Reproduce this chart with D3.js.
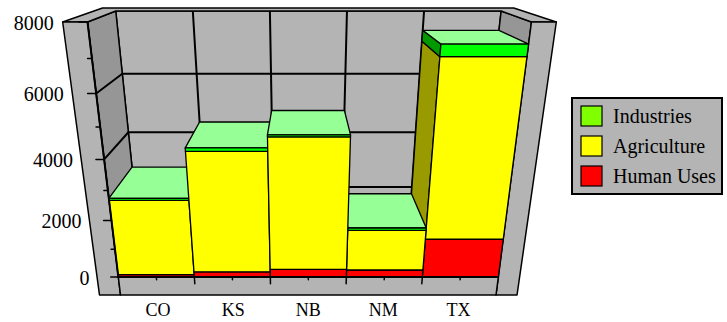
<!DOCTYPE html>
<html>
<head>
<meta charset="utf-8">
<script src="https://cdn.jsdelivr.net/npm/d3@7"></script>
<style>
  html, body { margin: 0; padding: 0; background: #fff; }
  svg { display: block; }
  svg text { font-family: "Liberation Serif", "Times New Roman", Times, serif; }
</style>
</head>
<body>
<svg id="chart" width="727" height="322"></svg>
<script>
// ---- data ----
const states = ["CO", "KS", "NB", "NM", "TX"];
const seriesNames = ["Human Uses", "Agriculture", "Industries"];
const humanUses   = [90, 190, 280, 255, 1350];
const agriculture = [2580, 4060, 4420, 1400, 5700];
const industries  = [70, 110, 60, 85, 350];
const yTickValues = [0, 2000, 4000, 6000, 8000];
const legendOrder = ["Industries", "Agriculture", "Human Uses"];

const FONT = "Liberation Serif, Times New Roman, Times, serif";

// ---- colours per series: front, side (shaded), top (lit), legend swatch ----
const colors = {
  "Human Uses":  { front: "#ff0000", side: "#990000", top: "#ff9090", swatch: "#ff0000" },
  "Agriculture": { front: "#ffff00", side: "#999900", top: "#ffff90", swatch: "#ffff00" },
  "Industries":  { front: "#00ff00", side: "#009900", top: "#96ff96", swatch: "#80ff00" }
};
const WALL = "#b4b4b4", WALL_SIDE = "#969696";

// ---- 3D layout: X = category units, Y = value (thousands), Z = depth ----
const x = d3.scaleBand().domain(states).range([0, 5]).paddingInner(0).paddingOuter(0);
const y = d3.scaleLinear().domain([0, 8000]).range([0, 8]);
const DEPTH = 1;          // bars run from the front plane to the back wall
const WALL_T = 0.28;      // side wall thickness (X units)
const BACK_T = 0.32;      // back wall thickness (Z units)
const FLOOR_T = 0.667;    // floor thickness (Y units)
const X_MIN = x.range()[0], X_MAX = x.range()[1], Y_TOP = y.range()[1];

// perspective camera (viewer above, looking down at the chart)
const CAM = { cx: 301.5, kx: 76, x0: 2.41, y0: 277, ey: -32.27, hy: -0.018, iz: 0.13, fz: -8 };
function proj(X, Y, Z) {
  const w = 1 + CAM.hy * Y + CAM.iz * Z;
  return [CAM.cx + CAM.kx * (X - CAM.x0) / w, (CAM.y0 + CAM.ey * Y + CAM.fz * Z) / w];
}

const svg = d3.select("#chart");
const g = svg.append("g");
const poly = d3.line().curve(d3.curveLinearClosed);

function face(pts, fill, sw = 1.3) {
  g.append("path")
    .attr("d", poly(pts.map(p => proj(...p))))
    .attr("fill", fill)
    .attr("stroke", "#000")
    .attr("stroke-width", sw)
    .attr("stroke-linejoin", "round");
}
function seg(a, b, sw = 2) {
  const p = proj(...a), q = proj(...b);
  g.append("line")
    .attr("x1", p[0]).attr("y1", p[1]).attr("x2", q[0]).attr("y2", q[1])
    .attr("stroke", "#000").attr("stroke-width", sw).attr("stroke-linecap", "round");
}

// ---- walls ----
// back wall
face([[X_MIN, 0, DEPTH], [X_MAX, 0, DEPTH], [X_MAX, Y_TOP, DEPTH], [X_MIN, Y_TOP, DEPTH]], WALL, 1.5);
// side walls, inner faces
face([[X_MIN, 0, 0], [X_MIN, 0, DEPTH], [X_MIN, Y_TOP, DEPTH], [X_MIN, Y_TOP, 0]], WALL_SIDE, 1.5);
face([[X_MAX, 0, 0], [X_MAX, 0, DEPTH], [X_MAX, Y_TOP, DEPTH], [X_MAX, Y_TOP, 0]], WALL_SIDE, 1.5);

// gridlines on the walls
const gridVals = yTickValues.filter(v => v > 0 && v < 8000);
gridVals.forEach(v => {
  seg([X_MIN, y(v), DEPTH], [X_MAX, y(v), DEPTH]);
  seg([X_MIN, y(v), 0], [X_MIN, y(v), DEPTH]);
  seg([X_MAX, y(v), 0], [X_MAX, y(v), DEPTH]);
});
states.slice(1).forEach(s => seg([x(s), 0, DEPTH], [x(s), Y_TOP, DEPTH]));

// top rim of the walls (U shape)
face([
  [X_MIN - WALL_T, Y_TOP, 0], [X_MIN - WALL_T, Y_TOP, DEPTH + BACK_T],
  [X_MAX + WALL_T, Y_TOP, DEPTH + BACK_T], [X_MAX + WALL_T, Y_TOP, 0],
  [X_MAX, Y_TOP, 0], [X_MAX, Y_TOP, DEPTH], [X_MIN, Y_TOP, DEPTH], [X_MIN, Y_TOP, 0]
], WALL, 1.5);

// front faces of the side walls and the floor
face([[X_MIN - WALL_T, -FLOOR_T, 0], [X_MIN, -FLOOR_T, 0], [X_MIN, Y_TOP, 0], [X_MIN - WALL_T, Y_TOP, 0]], WALL, 1.5);
face([[X_MAX, -FLOOR_T, 0], [X_MAX + WALL_T, -FLOOR_T, 0], [X_MAX + WALL_T, Y_TOP, 0], [X_MAX, Y_TOP, 0]], WALL, 1.5);
face([[X_MIN, -FLOOR_T, 0], [X_MAX, -FLOOR_T, 0], [X_MAX, 0, 0], [X_MIN, 0, 0]], WALL, 1.5);

// ---- stacked bars ----
const table = states.map((s, i) => ({
  state: s,
  "Human Uses": humanUses[i],
  "Agriculture": agriculture[i],
  "Industries": industries[i]
}));
const stacked = d3.stack().keys(seriesNames)(table);

// draw the bars farthest from the line of sight first
const order = states.map((s, i) => i)
  .sort((a, b) => Math.abs(x(states[b]) + x.bandwidth() / 2 - CAM.x0) -
                  Math.abs(x(states[a]) + x.bandwidth() / 2 - CAM.x0));

order.forEach(i => {
  const s = states[i];
  const x0 = x(s), x1 = x0 + x.bandwidth();
  const segs = stacked.map(layer => ({ key: layer.key, y0: y(layer[i][0]), y1: y(layer[i][1]) }));
  // visible side face
  segs.forEach(d => {
    if (x0 > CAM.x0) face([[x0, d.y0, 0], [x0, d.y0, DEPTH], [x0, d.y1, DEPTH], [x0, d.y1, 0]], colors[d.key].side);
    else if (x1 < CAM.x0) face([[x1, d.y0, 0], [x1, d.y0, DEPTH], [x1, d.y1, DEPTH], [x1, d.y1, 0]], colors[d.key].side);
  });
  // top face of the highest segment
  const topSeg = segs[segs.length - 1];
  face([[x0, topSeg.y1, 0], [x1, topSeg.y1, 0], [x1, topSeg.y1, DEPTH], [x0, topSeg.y1, DEPTH]], colors[topSeg.key].top);
  // front faces
  segs.forEach(d => face([[x0, d.y0, 0], [x1, d.y0, 0], [x1, d.y1, 0], [x0, d.y1, 0]], colors[d.key].front));
});

// ---- axes ----
// value axis along the front edge of the left wall
seg([X_MIN, 0, 0], [X_MIN, Y_TOP, 0], 2);
d3.range(0, 8001, 1000).forEach(v => {
  const len = v % 2000 === 0 ? 0.1 : 0.05;
  seg([X_MIN, y(v), 0], [X_MIN - len, y(v), 0], 1.5);
});
yTickValues.forEach(v => {
  const p = proj(X_MIN - WALL_T - 0.1, y(v), 0);
  g.append("text")
    .attr("x", p[0]).attr("y", p[1] + 1)
    .attr("text-anchor", "end").attr("dominant-baseline", "central")
    .attr("font-family", FONT).attr("font-size", 20).attr("fill", "#000")
    .text(d3.format("d")(v));
});

// category axis along the front bottom edge
seg([X_MIN, 0, 0], [X_MAX, 0, 0], 2);
states.forEach((s, i) => {
  if (i > 0) seg([x(s), 0, 0], [x(s), -0.25, 0], 1.5);
  const c = x(s) + x.bandwidth() / 2;
  seg([c, 0, 0], [c, -0.1, 0], 1.5);
  const p = proj(c, -FLOOR_T, 0);
  g.append("text")
    .attr("x", p[0]).attr("y", p[1] + 21)
    .attr("text-anchor", "middle")
    .attr("font-family", FONT).attr("font-size", 18).attr("fill", "#000")
    .text(s);
});

// ---- legend ----
const legend = svg.append("g").attr("transform", "translate(572,98)");
legend.append("rect")
  .attr("width", 150).attr("height", 96)
  .attr("fill", WALL).attr("stroke", "#000").attr("stroke-width", 2);
legendOrder.forEach((name, k) => {
  const row = legend.append("g").attr("transform", `translate(9,${8 + k * 30})`);
  row.append("rect")
    .attr("width", 21).attr("height", 20)
    .attr("fill", colors[name].swatch).attr("stroke", "#000").attr("stroke-width", 1.2);
  row.append("text")
    .attr("x", 32).attr("y", 10)
    .attr("dominant-baseline", "central")
    .attr("font-family", FONT).attr("font-size", 20).attr("fill", "#000")
    .text(name);
});
</script>
</body>
</html>
